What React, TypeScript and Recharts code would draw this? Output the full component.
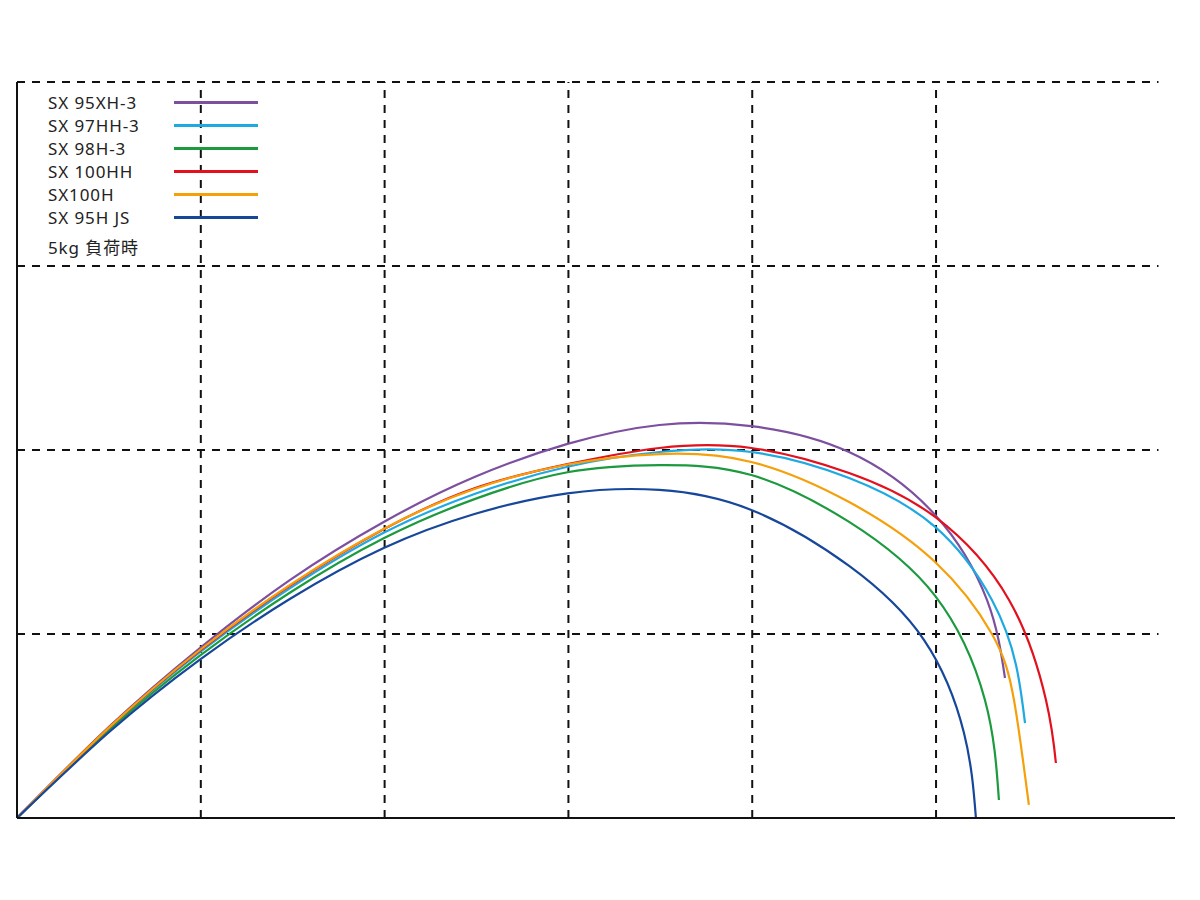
import {
	LineChart,
	Line,
	XAxis,
	YAxis,
	Legend,
	ReferenceLine,
} from 'recharts'

// curve points, in grid units (1 unit = one grid square)
const sx95xh3 = [
	{ x: 0, y: 0 },
	{ x: 0.505, y: 0.5 },
	{ x: 0.995, y: 0.924 },
	{ x: 1.484, y: 1.293 },
	{ x: 1.995, y: 1.609 },
	{ x: 2.489, y: 1.853 },
	{ x: 2.995, y: 2.033 },
	{ x: 3.495, y: 2.136 },
	{ x: 3.995, y: 2.13 },
	{ x: 4.527, y: 1.989 },
	{ x: 4.995, y: 1.647 },
	{ x: 5.277, y: 1.185 },
	{ x: 5.375, y: 0.761 },
]

const sx97hh3 = [
	{ x: 0, y: 0 },
	{ x: 0.505, y: 0.49 },
	{ x: 0.995, y: 0.901 },
	{ x: 1.484, y: 1.248 },
	{ x: 1.995, y: 1.55 },
	{ x: 2.489, y: 1.761 },
	{ x: 2.995, y: 1.909 },
	{ x: 3.495, y: 1.989 },
	{ x: 3.995, y: 1.989 },
	{ x: 4.527, y: 1.848 },
	{ x: 4.995, y: 1.582 },
	{ x: 5.304, y: 1.185 },
	{ x: 5.435, y: 0.832 },
	{ x: 5.484, y: 0.516 },
]

const sx98h3 = [
	{ x: 0, y: 0 },
	{ x: 0.505, y: 0.48 },
	{ x: 0.995, y: 0.882 },
	{ x: 1.484, y: 1.224 },
	{ x: 1.995, y: 1.52 },
	{ x: 2.489, y: 1.733 },
	{ x: 2.995, y: 1.879 },
	{ x: 3.495, y: 1.918 },
	{ x: 3.995, y: 1.864 },
	{ x: 4.527, y: 1.609 },
	{ x: 4.995, y: 1.207 },
	{ x: 5.266, y: 0.641 },
	{ x: 5.342, y: 0.098 },
]

const sx100hh = [
	{ x: 0, y: 0 },
	{ x: 0.505, y: 0.495 },
	{ x: 0.995, y: 0.91 },
	{ x: 1.484, y: 1.262 },
	{ x: 1.995, y: 1.569 },
	{ x: 2.489, y: 1.792 },
	{ x: 2.995, y: 1.923 },
	{ x: 3.495, y: 2.011 },
	{ x: 3.995, y: 2.011 },
	{ x: 4.527, y: 1.875 },
	{ x: 4.995, y: 1.636 },
	{ x: 5.397, y: 1.185 },
	{ x: 5.598, y: 0.641 },
	{ x: 5.652, y: 0.299 },
]

const sx100h = [
	{ x: 0, y: 0 },
	{ x: 0.505, y: 0.495 },
	{ x: 0.995, y: 0.913 },
	{ x: 1.484, y: 1.266 },
	{ x: 1.995, y: 1.571 },
	{ x: 2.489, y: 1.788 },
	{ x: 2.995, y: 1.921 },
	{ x: 3.495, y: 1.978 },
	{ x: 3.995, y: 1.935 },
	{ x: 4.527, y: 1.717 },
	{ x: 4.995, y: 1.391 },
	{ x: 5.304, y: 1.0 },
	{ x: 5.424, y: 0.641 },
	{ x: 5.505, y: 0.071 },
]

const sx95hjs = [
	{ x: 0, y: 0 },
	{ x: 0.505, y: 0.47 },
	{ x: 0.995, y: 0.861 },
	{ x: 1.484, y: 1.19 },
	{ x: 1.995, y: 1.467 },
	{ x: 2.489, y: 1.652 },
	{ x: 2.995, y: 1.764 },
	{ x: 3.495, y: 1.783 },
	{ x: 3.995, y: 1.674 },
	{ x: 4.527, y: 1.37 },
	{ x: 4.935, y: 0.967 },
	{ x: 5.152, y: 0.462 },
	{ x: 5.217, y: 0 },
]

// grid positions, in the same units
const xTicks = [1, 2, 3, 4, 5]
const yTicks = [1, 2, 3, 4]
const gridEnd = 6.21
const loadNote = '5kg 負荷時'

const series = [
	{ name: 'SX 95XH-3', data: sx95xh3, color: '#7d4f9f' },
	{ name: 'SX 97HH-3', data: sx97hh3, color: '#1fa9e1' },
	{ name: 'SX 98H-3', data: sx98h3, color: '#1b9a3e' },
	{ name: 'SX 100HH', data: sx100hh, color: '#e3101e' },
	{ name: 'SX100H', data: sx100h, color: '#f5a00a' },
	{ name: 'SX 95H JS', data: sx95hjs, color: '#17479b' },
]

const font = '"Noto Sans", "Noto Sans CJK JP", sans-serif'
const dash = { stroke: '#111', strokeWidth: 2, strokeDasharray: '8 7' }

const LegendBox = () => (
	<div
		style={{
			fontFamily: font,
			fontSize: 17,
			letterSpacing: 0.9,
			color: '#222',
		}}
	>
		{series.map((s) => (
			<div
				key={s.name}
				style={{ display: 'flex', alignItems: 'center', height: 23 }}
			>
				<span style={{ width: 126, lineHeight: '23px' }}>{s.name}</span>
				<div style={{ width: 84, height: 3, background: s.color }} />
			</div>
		))}
		<div style={{ marginTop: 7, height: 23, lineHeight: '23px' }}>
			{loadNote}
		</div>
	</div>
)

const App = () => {
	return (
		<div
			style={{
				position: 'absolute',
				left: 0,
				top: 0,
				width: 1200,
				height: 900,
				background: '#fff',
			}}
		>
			<LineChart
				width={1200}
				height={900}
				margin={{ top: 82, right: 25, left: 16, bottom: 81 }}
			>
				<XAxis
					dataKey='x'
					type='number'
					domain={[0, 6.3]}
					ticks={xTicks}
					tickFormatter={() => ''}
					tickLine={false}
					height={1}
					axisLine={{ stroke: '#111', strokeWidth: 2 }}
				/>
				<YAxis
					type='number'
					domain={[0, 4]}
					ticks={yTicks}
					tickFormatter={() => ''}
					tickLine={false}
					width={1}
					axisLine={{ stroke: '#111', strokeWidth: 2 }}
				/>
				{xTicks.map((t) => (
					<ReferenceLine key={'x' + t} x={t} {...dash} />
				))}
				{yTicks.map((t) => (
					<ReferenceLine
						key={'y' + t}
						segment={[
							{ x: 0, y: t },
							{ x: gridEnd, y: t },
						]}
						{...dash}
					/>
				))}
				<Legend
					layout='horizontal'
					align='center'
					verticalAlign='middle'
					content={() => <LegendBox />}
					wrapperStyle={{ left: 48, top: 91, width: 260 }}
				/>
				{series.map((s) => (
					<Line
						key={s.name}
						data={s.data}
						dataKey='y'
						name={s.name}
						type='natural'
						stroke={s.color}
						strokeWidth={2.2}
						dot={false}
						activeDot={false}
						isAnimationActive={false}
					/>
				))}
			</LineChart>
		</div>
	)
}

export default App
